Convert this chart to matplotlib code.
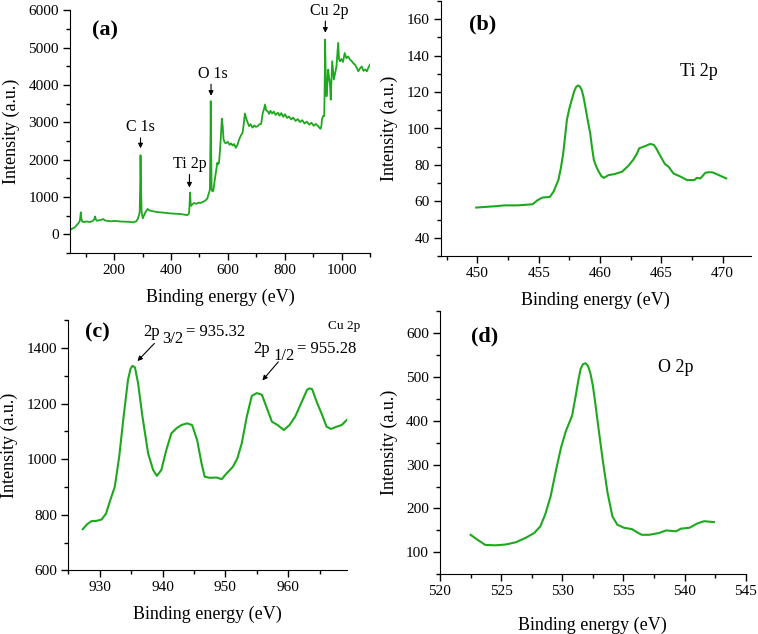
import matplotlib
matplotlib.use("Agg")
import matplotlib.pyplot as plt
from matplotlib.ticker import MultipleLocator, AutoMinorLocator

plt.rcParams['font.family'] = ['Liberation Serif', 'DejaVu Serif']

GREEN = '#1ea81e'

# ---------------- (a) survey ----------------
survey_E = [50, 55, 62, 70, 77, 80, 83, 85, 88, 95,
            103, 115, 125, 130, 133, 136, 139, 150, 162, 168,
            174, 190, 205, 221, 240, 255, 268, 278, 283, 287,
            290, 292, 293, 295, 297, 301, 305, 310, 318, 325,
            339, 350, 362, 375, 386, 400, 412, 423, 434, 445,
            457, 462, 464, 466, 467, 469, 470, 475, 481, 490,
            497, 504, 512, 520, 528, 531, 534, 537, 539, 540,
            541, 543, 546, 549, 553, 558, 563, 566, 569, 572,
            575, 579, 582, 585, 589, 593, 600, 606, 611, 617,
            622, 628, 634, 640, 646, 652, 656, 660, 665, 670,
            675, 680, 687, 693, 699, 705, 711, 717, 720, 723,
            727, 731, 735, 740, 745, 750, 756, 762, 768, 776,
            782, 788, 795, 801, 808, 815, 823, 830, 838, 846,
            854, 862, 870, 878, 886, 894, 902, 910, 917, 922,
            926, 929, 931, 935, 939, 941, 942, 944, 947, 950,
            953, 956, 959, 962, 964, 967, 970, 973, 977, 982,
            985, 988, 991, 994, 999, 1005, 1011, 1017, 1023, 1030,
            1036, 1042, 1047, 1053, 1059, 1065, 1071, 1077, 1083, 1089,
            1095, 1100]
survey_I = [140, 160, 190, 260, 320, 380, 590, 420, 340, 330,
            345, 330, 360, 400, 480, 400, 365, 380, 410, 370,
            365, 350, 360, 345, 340, 335, 320, 350, 410, 500,
            590, 1400, 2120, 1200, 590, 430, 500, 590, 680, 640,
            615, 600, 590, 580, 570, 560, 555, 550, 545, 530,
            515, 540, 590, 900, 1120, 900, 765, 800, 840, 820,
            850, 840, 870, 900, 960, 1050, 1120, 1200, 2500, 3570,
            2500, 1210, 1150, 1165, 1400, 1655, 1920, 1880, 1920, 2200,
            2545, 3100, 2900, 2545, 2460, 2440, 2480, 2400, 2440, 2380,
            2420, 2320, 2400, 2545, 2650, 2725, 2950, 3240, 3100, 2990,
            2900, 2950, 2860, 2920, 2880, 2900, 2950, 2960, 3100, 3260,
            3350, 3480, 3320, 3300, 3230, 3310, 3240, 3290, 3200, 3260,
            3180, 3250, 3150, 3220, 3120, 3160, 3080, 3130, 3040, 3090,
            3010, 3060, 2970, 3020, 2940, 2990, 2910, 2960, 2900, 2860,
            2830, 2900, 3080, 3170, 3170, 4200, 5220, 4400, 3700, 4000,
            4415, 4200, 4060, 3610, 4000, 4640, 4400, 4150, 4300, 4500,
            4800, 5130, 4700, 4640, 4700, 4620, 4860, 4720, 4770, 4680,
            4640, 4580, 4550, 4470, 4370, 4450, 4500, 4380, 4420, 4370,
            4480, 4550]

# ---------------- (b) Ti 2p ----------------
ti_E = [449.9, 451.4, 452.2, 453.3, 454.5, 454.9, 455.3, 455.9, 456.2, 456.6,
        456.8, 457.0, 457.15, 457.3, 457.5, 457.7, 457.9, 458.05, 458.2, 458.35,
        458.5, 458.65, 458.8, 459.0, 459.2, 459.35, 459.5, 459.7, 459.9, 460.1,
        460.3, 460.7, 461.2, 461.8, 462.3, 462.7, 463.0, 463.2, 463.7, 464.1,
        464.4, 464.6, 464.8, 465.3, 465.6, 466.0, 466.6, 467.1, 467.7, 467.9,
        468.2, 468.6, 468.9, 469.2, 469.7, 470.3]
ti_I = [56.6, 57.3, 57.8, 57.8, 58.4, 60.6, 62.1, 62.4, 65.2, 71.6,
        78.0, 86.4, 95.5, 104.8, 111.0, 115.8, 120.5, 122.8, 123.6, 123.2,
        121.3, 117.5, 112.1, 104.5, 97.4, 89.5, 82.7, 79.0, 76.3, 74.0,
        72.9, 74.4, 75.0, 76.3, 79.4, 82.7, 86.0, 89.1, 90.4, 91.5,
        91.0, 89.0, 86.4, 80.5, 79.0, 75.3, 73.5, 71.7, 71.7, 72.9,
        72.6, 75.7, 76.0, 75.9, 74.4, 72.6]

# ---------------- (c) Cu 2p ----------------
cu_E = [927.3, 928.0, 928.7, 929.5, 930.3, 931.0, 931.6, 932.4, 933.1, 933.8,
        934.5, 934.9, 935.2, 935.6, 936.1, 936.8, 937.7, 938.5, 939.1, 939.8,
        940.6, 941.4, 942.2, 943.0, 943.9, 944.7, 945.5, 946.2, 946.7, 947.5,
        948.6, 949.4, 950.2, 951.2, 951.9, 952.6, 953.4, 954.2, 955.0, 955.8,
        956.5, 957.4, 958.3, 959.3, 960.2, 961.1, 962.1, 963.0, 963.4, 963.8,
        964.6, 965.4, 966.1, 966.8, 967.7, 968.5, 969.3]
cu_I = [748, 766, 777, 778, 783, 804, 847, 901, 1009, 1153,
        1286, 1325, 1336, 1331, 1274, 1153, 1021, 961, 940, 961,
        1033, 1093, 1111, 1123, 1129, 1123, 1069, 985, 937, 933,
        934, 928, 949, 973, 1003, 1057, 1153, 1228, 1238, 1232,
        1190, 1135, 1123, 1105, 1123, 1153, 1204, 1250, 1255, 1252,
        1202, 1159, 1117, 1109, 1117, 1123, 1141]

# ---------------- (d) O 2p ----------------
o_E = [522.5, 523.05, 523.7, 524.55, 525.4, 526.2, 527.0, 527.7, 528.2, 528.6,
       529.05, 529.5, 529.9, 530.3, 530.8, 531.1, 531.3, 531.5, 531.7, 531.9,
       532.1, 532.3, 532.5, 532.7, 532.9, 533.3, 533.7, 534.1, 534.5, 535.05,
       535.7, 536.1, 536.5, 537.1, 537.9, 538.5, 539.3, 539.7, 540.4, 541.05,
       541.6, 542.4]
o_I = [140, 129, 117, 116, 118, 123, 133, 144, 159, 186,
       228, 289, 339, 377, 411, 457, 490, 518, 529, 531,
       525, 508, 480, 440, 396, 312, 236, 182, 163, 156,
       153, 146, 140, 140, 144, 150, 148, 154, 156, 166,
       171, 169]

W, H = 758, 634
fig = plt.figure(figsize=(W / 100, H / 100), dpi=100)


def make_ax(left, top, right, bottom):
    return fig.add_axes([left / W, 1 - bottom / H, (right - left) / W, (bottom - top) / H])


def style(ax, xmaj, ymaj, xpad=8):
    for s in ('top', 'right'):
        ax.spines[s].set_visible(False)
    ax.xaxis.set_major_locator(MultipleLocator(xmaj))
    ax.yaxis.set_major_locator(MultipleLocator(ymaj))
    ax.xaxis.set_minor_locator(AutoMinorLocator(2))
    ax.yaxis.set_minor_locator(AutoMinorLocator(2))
    ax.tick_params(which='major', direction='out', length=5, width=1, labelsize=11, pad=3)
    ax.tick_params(which='minor', direction='out', length=3, width=1)
    ax.set_xlabel('Binding energy (eV)', fontsize=13, labelpad=xpad)
    ax.set_ylabel('Intensity (a.u.)', fontsize=13, labelpad=6)


def sub_label(ax, x, y, main, sub, rest, fs=12):
    t1 = ax.text(x, y, main, fontsize=fs, ha='left', va='baseline')
    t2 = ax.annotate(sub, xy=(1, 0), xycoords=t1, xytext=(2, -5), textcoords='offset points',
                     fontsize=fs, ha='left', va='bottom')
    ax.annotate(rest, xy=(1, 0), xycoords=t2, xytext=(2, 5), textcoords='offset points',
                fontsize=fs, ha='left', va='bottom')


arrow = dict(arrowstyle='-|>', color='black', lw=0.8, mutation_scale=7)

# (a)
axa = make_ax(70, 10.5, 370, 253)
axa.plot(survey_E, survey_I, color=GREEN, lw=1.3)
axa.set_xlim(45, 1100)
axa.set_ylim(-500, 6000)
style(axa, 200, 1000)
axa.text(0.073, 0.919, '(a)', transform=axa.transAxes, fontsize=16, fontweight='bold', va='center')
for lab, xt, yt, xa, y0, y1 in [('C 1s', 293, 2880, 293, 2660, 2230),
                                ('Ti 2p', 465, 1880, 465, 1680, 1180),
                                ('O 1s', 547, 4310, 541, 4100, 3640),
                                ('Cu 2p', 958, 5980, 943, 5790, 5330)]:
    axa.text(xt, yt, lab, fontsize=11.5, ha='center', va='center')
    axa.annotate('', xy=(xa, y1), xytext=(xa, y0), arrowprops=arrow)

# (b)
axb = make_ax(440.7, 1, 750.7, 256)
axb.plot(ti_E, ti_I, color=GREEN, lw=1.5)
axb.set_xlim(447, 472.3)
axb.set_ylim(30, 170)
style(axb, 5, 20)
axb.text(0.091, 0.906, '(b)', transform=axb.transAxes, fontsize=16, fontweight='bold', va='center')
axb.text(468.1, 131.5, 'Ti 2p', fontsize=13, ha='center', va='center')

# (c)
axc = make_ax(68.3, 320.3, 346.7, 570.3)
axc.plot(cu_E, cu_I, color=GREEN, lw=1.5)
axc.set_xlim(925, 969.3)
axc.set_ylim(600, 1500)
style(axc, 10, 200)
axc.text(0.06, 0.953, '(c)', transform=axc.transAxes, fontsize=16, fontweight='bold', va='center')
sub_label(axc, 936.9, 1445, '2p', '3/2', '= 935.32')
axc.annotate('', xy=(935.7, 1346), xytext=(939.0, 1424), arrowprops=arrow)
sub_label(axc, 954.5, 1383, '2p', '1/2', '= 955.28')
axc.annotate('', xy=(955.6, 1276), xytext=(958.7, 1358), arrowprops=arrow)
axc.text(971.4, 1481, 'Cu 2p', fontsize=9.5, ha='right', va='center', clip_on=False)

# (d)
axd = make_ax(440, 311, 745.7, 574.3)
axd.plot(o_E, o_I, color=GREEN, lw=1.5)
axd.set_xlim(520, 545)
axd.set_ylim(50, 650)
style(axd, 5, 100, xpad=13)
axd.text(0.101, 0.905, '(d)', transform=axd.transAxes, fontsize=16, fontweight='bold', va='center')
axd.text(539.3, 521.5, 'O 2p', fontsize=13, ha='center', va='center')

fig.savefig('out.png', dpi=100)
